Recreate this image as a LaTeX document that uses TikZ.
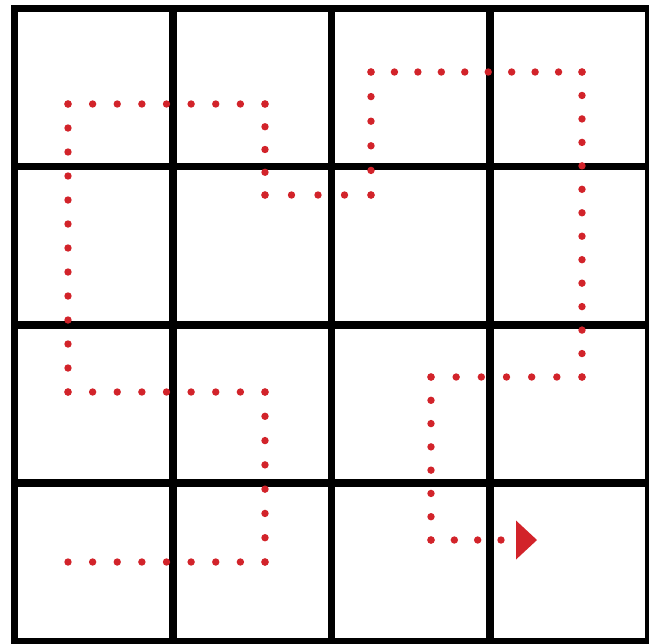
\documentclass[tikz,border=0pt]{standalone}
\usepackage{tikz}
\usetikzlibrary{calc}
\definecolor{trailred}{HTML}{D2232A}

\begin{document}
\begin{tikzpicture}[
  x=0.75pt, y=-0.75pt,
  gridline/.style={line width=5.6pt, line cap=rect, black},
  dotmark/.style={fill=trailred},
  headmark/.style={fill=trailred}
]
  \useasboundingbox (0,0) rectangle (649,643);
  \begin{scope}
    \clip (0,0) rectangle (649,643);
    % grid
    \foreach \i in {0,...,4} {
      \draw[gridline] ({14.5+158.5*\i},8.5) -- ({14.5+158.5*\i},641.3);
      \draw[gridline] (14.5,{8.5+158.2*\i}) -- (648.5,{8.5+158.2*\i});
    }
  \end{scope}

  % corners of the trail
  \coordinate (p0) at (68,562);
  \coordinate (p1) at (265,562);
  \coordinate (p2) at (265,392);
  \coordinate (p3) at (68,392);
  \coordinate (p4) at (68,104);
  \coordinate (p5) at (265,104);
  \coordinate (p6) at (265,195);
  \coordinate (p7) at (371,195);
  \coordinate (p8) at (371,72);
  \coordinate (p9) at (582,72);
  \coordinate (p10) at (582,377);
  \coordinate (p11) at (431,377);
  \coordinate (p12) at (431,540);
  \coordinate (p13) at (501,540);
  \coordinate (tip) at (537,540);

  % dotted trail, segment by segment
  \foreach \a/\b/\n in {p0/p1/8, p1/p2/7, p2/p3/8, p3/p4/12, p4/p5/8,
                        p5/p6/4, p6/p7/4, p7/p8/5, p8/p9/9, p9/p10/13,
                        p10/p11/6, p11/p12/7, p12/p13/3} {
    \foreach \k in {0,...,\n}
      \fill[dotmark] ($(\a)!\k/\n!(\b)$) circle [radius=3.7];
  }

  % arrow head
  \fill[headmark] (tip) -- ++(-21,-19.5) -- ++(0,39) -- cycle;
\end{tikzpicture}
\end{document}
